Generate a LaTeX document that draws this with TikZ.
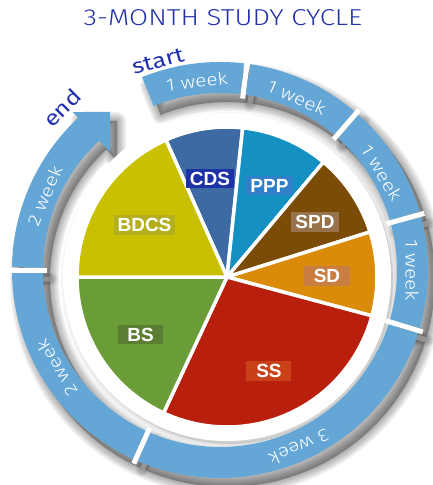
\documentclass[tikz,border=0pt]{standalone}
\usepackage{fontspec}
\setmainfont{Liberation Sans}
\newfontfamily\thinf{Fira Sans Light}[FakeStretch=1.2]
\newfontfamily\regf{Fira Sans}[FakeStretch=1.2]
\definecolor{ringblue}{HTML}{64A6D6}
\definecolor{titleblue}{HTML}{2332AA}
\definecolor{darkblue}{HTML}{2030B0}
\definecolor{cCDS}{HTML}{3E6AA4}
\definecolor{cPPP}{HTML}{1590C2}
\definecolor{cSPD}{HTML}{7B4B08}
\definecolor{cSD}{HTML}{DA8B0A}
\definecolor{cSS}{HTML}{B81F0C}
\definecolor{cBS}{HTML}{6A9C38}
\definecolor{cBDCS}{HTML}{C8C000}
\definecolor{bCDS}{HTML}{1E32A8}
\definecolor{bPPP}{HTML}{2F80C8}
\definecolor{bSPD}{HTML}{96734B}
\definecolor{bSD}{HTML}{C87D41}
\definecolor{bSS}{HTML}{C84119}
\definecolor{bBS}{HTML}{5A7D32}
\definecolor{bBDCS}{HTML}{B4AF1E}
\newcommand\ringseg[3]{\fill[#1] (#2:177pt) -- (#2:208pt) arc[start angle=#2,end angle=#3,radius=208pt] -- (#3:177pt) arc[start angle=#3,end angle=#2,radius=177pt] -- cycle;}
\newcommand\arrowseg[1]{\fill[#1] (179.2:177pt) -- (179.2:208pt) arc[start angle=179.2,end angle=133,radius=208pt] -- (133:216pt) -- (124.8:192.5pt) -- (133:161pt) -- (133:177pt) arc[start angle=133,end angle=179.2,radius=177pt] -- cycle;}
\newcommand\allring[1]{%
 \ringseg{#1}{112}{83.4}%
 \ringseg{#1}{81.6}{49.8}%
 \ringseg{#1}{48.2}{16.3}%
 \ringseg{#1}{14.7}{-16.2}%
 \ringseg{#1}{-17.8}{-113.2}%
 \ringseg{#1}{-114.8}{-179.2}%
 \arrowseg{#1}}
\newcommand\slice[3]{\fill[#1, draw=white, line width=3.5pt, line join=round] (7,-7) -- ++(#2:150pt) arc[start angle=#2, end angle=#3, radius=150pt] -- cycle;}
\begin{document}
\begin{tikzpicture}[x=1pt,y=1pt,
  weektext/.style={text=white, font=\thinf\fontsize{17.5}{17.5}\selectfont, inner sep=0pt},
  piebox/.style={text=white, font=\bfseries\fontsize{19}{19}\selectfont, inner xsep=4pt, inner ysep=3pt, text height=13.7pt, text depth=0pt, minimum width=45pt},
  shadowlayer/.style={fill=black, draw=black, opacity=0.055, line join=round},
  gapline/.style={draw=white, line width=5pt}
]
\useasboundingbox[fill=white] (-220,-215) rectangle (212,270);
% ring shadow
\begin{scope}[shift={(7,-9)}]
\foreach \w in {18,15,12,9,6,3}{\allring{shadowlayer, line width=\w pt}}
\end{scope}
% disc shadow
\foreach \w in {12,8,4}{\fill[shadowlayer, opacity=0.035, line width=\w pt] (10,-11) circle[radius=163pt];}
\fill[white] (7,-7) circle[radius=164pt];
% ring
\allring{ringblue}
% gaps between ring segments
\foreach \a in {82.5,49,15.5,-17,-114,180}{\draw[gapline] (\a:173pt) -- (\a:212pt);}
% ring texts
\node[weektext, rotate=7] (w1) at (97:190pt) {1 week};
\node[weektext, rotate=-24] (w2) at (66:189pt) {1 week};
\node[weektext, rotate=-59] (w3) at (31:189pt) {1 week};
\node[weektext, rotate=-90] (w4) at (0:192pt) {1 week};
\node[weektext, rotate=-156] (w5) at (-66:194pt) {3 week};
\node[weektext, rotate=-239] (w6) at (-149:190pt) {2 week};
\node[weektext, rotate=67] (w7) at (157:190pt) {2 week};
% pie
\slice{cCDS}{84}{114}
\slice{cPPP}{50}{84}
\slice{cSPD}{17.5}{50}
\slice{cSD}{-15}{17.5}
\slice{cSS}{-115}{-15}
\slice{cBS}{180}{245}
\slice{cBDCS}{114}{180}
% labels
\node[piebox, fill=bCDS] (cds) at (-10,91.5) {CDS};
\node[piebox, fill=bPPP] (ppp) at (49.5,84.5) {PPP};
\node[piebox, fill=bSPD] (spd) at (95,48) {SPD};
\node[piebox, fill=bSD] (sd) at (107,-6) {SD};
\node[piebox, fill=bBDCS] (bdcs) at (-75.5,45) {BDCS};
\node[piebox, fill=bBS] (bs) at (-79.5,-64.5) {BS};
\node[piebox, fill=bSS] (ss) at (49,-101) {SS};
% title and start/end
\node[text=titleblue, font=\thinf\fontsize{23}{23}\selectfont, inner sep=0pt] (title) at (3,252) {3-MONTH STUDY CYCLE};
\node[text=darkblue, font=\regf\fontsize{21}{21}\selectfont, inner sep=0pt, rotate=15] (start) at (-62,209) {start};
\node[text=darkblue, font=\regf\fontsize{21}{21}\selectfont, inner sep=0pt, rotate=45] (end) at (-158,162) {end};
\end{tikzpicture}
\end{document}
